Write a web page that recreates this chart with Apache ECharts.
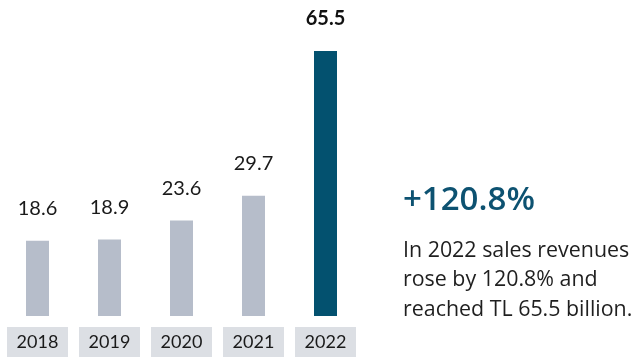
<!DOCTYPE html>
<html>
<head>
<meta charset="utf-8">
<script src="https://cdn.jsdelivr.net/npm/echarts@6/dist/echarts.min.js"></script>
<style>
  html, body { margin: 0; padding: 0; background: #ffffff; }
  #chart { width: 642px; height: 357px; }
</style>
</head>
<body>
<div id="chart"></div>
<script>
// Sales revenues, TL billion
const years = ['2018', '2019', '2020', '2021', '2022'];
const revenues = [18.6, 18.9, 23.6, 29.7, 65.5];
const growthText = '+120.8%';
const noteLines = ['In 2022 sales revenues', 'rose by 120.8% and', 'reached TL 65.5 billion.'];

const FONT = 'Lato';
const TEXT_FONT = '"Open Sans"';
const GREY = '#b6bdca';
const TEAL = '#03516f';
const lastIdx = revenues.length - 1;

const chart = echarts.init(document.getElementById('chart'));
chart.setOption({
  animation: false,
  grid: { left: 1.5, width: 360, top: 51, bottom: 41, containLabel: false },
  xAxis: {
    type: 'category',
    data: years,
    axisLine: { show: false },
    axisTick: { show: false },
    axisLabel: {
      margin: 11,
      fontFamily: FONT,
      fontSize: 18,
      color: '#1a1a1a',
      backgroundColor: '#dcdfe4',
      width: 61,
      height: 30,
      lineHeight: 30,
      align: 'center',
      verticalAlign: 'top'
    }
  },
  yAxis: {
    type: 'value',
    min: 0,
    max: 'dataMax',
    show: false,
    splitLine: { show: false }
  },
  series: [{
    type: 'bar',
    barWidth: 23,
    data: revenues.map((v, i) => ({
      value: v,
      itemStyle: { color: i === lastIdx ? TEAL : GREY },
      label: i === lastIdx ? { fontWeight: 'bold', color: '#111' } : {}
    })),
    label: {
      show: true,
      position: 'top',
      distance: 22,
      fontFamily: FONT,
      fontSize: 20,
      color: '#1a1a1a',
      formatter: p => p.value.toFixed(1)
    }
  }],
  graphic: [
    {
      type: 'text',
      left: 403,
      top: 184,
      style: {
        text: growthText,
        font: '600 33px ' + TEXT_FONT,
        fill: '#0d5271'
      }
    },
    {
      type: 'text',
      left: 403,
      top: 236,
      style: {
        text: noteLines.join('\n'),
        font: '21.4px ' + TEXT_FONT,
        lineHeight: 29.5,
        fill: '#1f1f1f'
      }
    }
  ]
});
</script>
</body>
</html>
